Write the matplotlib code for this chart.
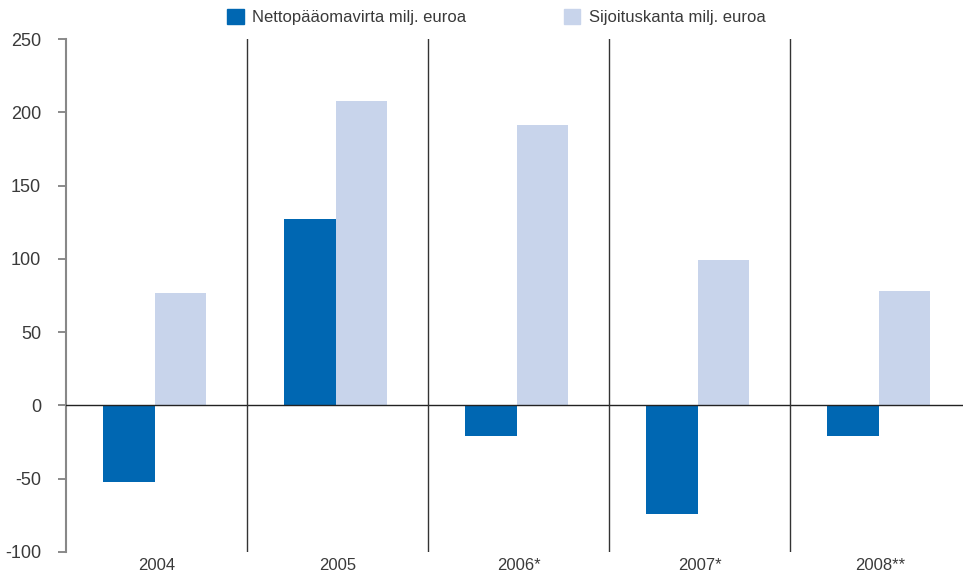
import numpy as np
import matplotlib
matplotlib.use("Agg")
import matplotlib.pyplot as plt
from matplotlib.patches import Patch

plt.rcParams['font.family'] = ['Liberation Sans', 'DejaVu Sans']
plt.rcParams['axes.unicode_minus'] = False

# Data
years = ['2004', '2005', '2006*', '2007*', '2008**']
nettopaaomavirta = [-52, 127, -21, -74, -21]
sijoituskanta = [77, 208, 191, 99, 78]

dark_blue = '#0067b2'
light_blue = '#c8d4eb'
text_col = '#3a3a3a'

fig = plt.figure(figsize=(9.63, 5.75), dpi=100)
ax = fig.add_axes([66 / 963, 1 - 552 / 575, 1 - 66 / 963, (552 - 39) / 575])

x = np.arange(len(years))
w = 0.285
ax.bar(x - w / 2 - 0.01, nettopaaomavirta, width=w, color=dark_blue, linewidth=0)
ax.bar(x + w / 2 - 0.01, sijoituskanta, width=w, color=light_blue, linewidth=0)

ax.set_ylim(-100, 250)
ax.set_xlim(-0.5, -0.5 + (963 - 66) / 181)

# zero line and group dividers
ax.axhline(0, color='#222222', linewidth=1.0, zorder=3)
for d in x[:-1] + 0.5:
    ax.axvline(d, color='#333333', linewidth=1.0, zorder=3)

ax.set_yticks([-100, -50, 0, 50, 100, 150, 200, 250])
ax.set_xticks(x)
ax.set_xticklabels(years)
ax.tick_params(axis='x', length=0, pad=4, labelsize=12, colors=text_col)
ax.tick_params(axis='y', length=6, width=1.2, color='#777777', pad=12,
               labelsize=13, labelcolor=text_col)

for side in ['top', 'right', 'bottom']:
    ax.spines[side].set_visible(False)
ax.spines['left'].set_color('#888888')
ax.spines['left'].set_linewidth(1.5)

handles = [Patch(color=dark_blue, label='Nettopääomavirta milj. euroa'),
           Patch(color=light_blue, label='Sijoituskanta milj. euroa')]
fig.legend(handles=handles, loc='upper left', bbox_to_anchor=(212 / 963, 1.01),
           ncol=2, frameon=False, fontsize=12, labelcolor=text_col,
           handlelength=1.0, handleheight=1.0, handletextpad=0.5,
           columnspacing=5.85)

fig.savefig('out.png', dpi=100)
